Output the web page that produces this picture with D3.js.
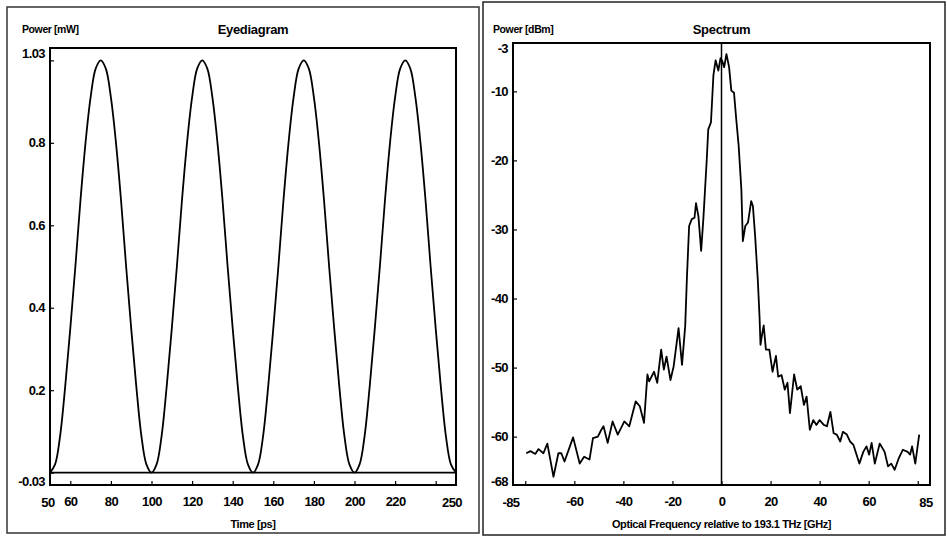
<!DOCTYPE html>
<html>
<head>
<meta charset="utf-8">
<script src="https://cdn.jsdelivr.net/npm/d3@7"></script>
<style>
  body { margin: 0; background: #fff; }
  svg { display: block; font-family: "Liberation Sans Narrow", "Arial Narrow", "Liberation Sans", Arial, sans-serif; }
</style>
</head>
<body>
<svg id="chart" width="947" height="536"></svg>
<script>
// ---- Eyediagram data (time in ps, power in mW) ----
const eyeTime = [
  50, 52.5, 55, 57.5, 60, 62.5, 65, 67.5, 70, 72.5, 75, 77.5, 80, 82.5, 85, 87.5, 90, 92.5, 95, 97.5,
  100, 102.5, 105, 107.5, 110, 112.5, 115, 117.5, 120, 122.5, 125, 127.5, 130, 132.5, 135, 137.5, 140, 142.5, 145, 147.5,
  150, 152.5, 155, 157.5, 160, 162.5, 165, 167.5, 170, 172.5, 175, 177.5, 180, 182.5, 185, 187.5, 190, 192.5, 195, 197.5,
  200, 202.5, 205, 207.5, 210, 212.5, 215, 217.5, 220, 222.5, 225, 227.5, 230, 232.5, 235, 237.5, 240, 242.5, 245, 247.5,
  250
];
const eyePower = [
  0.00, 0.02, 0.09, 0.21, 0.35, 0.50, 0.66, 0.80, 0.91, 0.98, 1.00, 0.98, 0.91, 0.80, 0.66, 0.50, 0.35, 0.21, 0.09, 0.02,
  0.00, 0.02, 0.09, 0.21, 0.35, 0.50, 0.66, 0.80, 0.91, 0.98, 1.00, 0.98, 0.91, 0.80, 0.66, 0.50, 0.35, 0.21, 0.09, 0.02,
  0.00, 0.02, 0.09, 0.21, 0.35, 0.50, 0.66, 0.80, 0.91, 0.98, 1.00, 0.98, 0.91, 0.80, 0.66, 0.50, 0.35, 0.21, 0.09, 0.02,
  0.00, 0.02, 0.09, 0.21, 0.35, 0.50, 0.66, 0.80, 0.91, 0.98, 1.00, 0.98, 0.91, 0.80, 0.66, 0.50, 0.35, 0.21, 0.09, 0.02,
  0.00
];
// zero level trace
const eyeZeroTime = [50, 250];
const eyeZeroPower = [0, 0];

const eyeXDomain = [50, 250];
const eyeYDomain = [-0.03, 1.03];
const eyeXTicks = [60, 80, 100, 120, 140, 160, 180, 200, 220, 240];
const eyeXTickLabels = ["60", "80", "100", "120", "140", "160", "180", "200", "220", ""];
const eyeYTicks = [0, 0.2, 0.4, 0.6, 0.8, 1.0];
const eyeYTickLabels = ["", "0.2", "0.4", "0.6", "0.8", ""];
const eyeXEdgeLabels = ["50", "250"];
const eyeYEdgeLabels = ["-0.03", "1.03"];

// ---- Spectrum data (GHz relative to 193.1 THz, power in dBm) ----
const specFreq = [
  -79.6, -77.9, -75.9, -74.6, -72.6, -71.0, -68.5, -66.5, -65.3, -64.0,
  -60.5, -57.8, -56.0, -53.8, -52.4, -50.4, -49.0, -48.1, -46.4, -44.4,
  -42.3, -39.6, -37.6, -35.0, -33.3, -31.6, -30.2, -29.5, -27.5, -26.2,
  -24.6, -23.5, -22.4, -20.8, -19.5, -17.5, -16.1, -14.8, -14.1, -13.2,
  -12.1, -11.0, -10.4, -9.4, -8.3, -7.4, -6.0, -5.4, -4.3, -3.3,
  -2.4, -1.3, -0.4, 0.3, 1.1, 2.0, 3.1, 4.0, 5.1, 6.0,
  7.0, 8.1, 8.7, 9.7, 10.8, 12.1, 12.8, 13.7, 14.8, 15.5,
  15.9, 16.4, 17.2, 18.1, 19.5, 20.8, 22.2, 23.1, 24.5, 25.8,
  26.9, 27.9, 29.6, 30.9, 32.3, 33.6, 34.7, 36.0, 37.4, 38.7,
  40.0, 41.7, 43.0, 44.4, 45.7, 47.0, 48.4, 49.5, 51.1, 52.4,
  53.8, 56.2, 57.8, 59.1, 60.2, 61.2, 62.5, 64.5, 66.5, 67.9,
  69.2, 70.6, 72.3, 73.9, 75.9, 76.9, 77.7, 79.0, 80.6
];
const specPower = [
  -62.4, -62.1, -62.5, -61.8, -62.4, -61.0, -65.8, -62.4, -62.4, -63.6,
  -60.1, -63.9, -62.9, -63.3, -60.2, -60.0, -59.0, -58.5, -60.9, -57.8,
  -59.7, -57.8, -58.5, -54.9, -55.6, -58.0, -51.0, -52.0, -50.6, -52.2,
  -47.4, -50.3, -48.4, -51.8, -49.8, -44.3, -49.6, -44.0, -37.0, -29.5,
  -28.5, -28.3, -26.2, -28.1, -33.1, -28.5, -19.8, -15.5, -14.5, -7.7,
  -5.5, -7.0, -5.2, -5.6, -6.5, -4.6, -6.5, -9.9, -10.2, -14.0,
  -17.9, -24.2, -31.7, -29.5, -29.0, -25.9, -26.6, -30.9, -37.3, -42.6,
  -46.7, -45.5, -43.9, -47.4, -47.4, -50.6, -48.3, -51.3, -51.1, -53.2,
  -52.2, -56.6, -51.0, -53.2, -52.7, -55.4, -54.2, -59.0, -57.6, -58.3,
  -57.6, -58.3, -58.5, -56.4, -59.5, -59.7, -60.7, -59.3, -59.7, -60.7,
  -61.2, -63.9, -62.2, -61.4, -62.6, -60.9, -63.9, -61.0, -62.2, -64.3,
  -63.9, -64.8, -63.1, -61.9, -62.2, -62.6, -61.4, -63.9, -59.7
];

const specXDomain = [-85, 85];
const specYDomain = [-67, -3];
const specXTicks = [-80, -60, -40, -20, 0, 20, 40, 60, 80];
const specXTickLabels = ["", "-60", "-40", "-20", "0", "20", "40", "60", ""];
const specYTicks = [-10, -20, -30, -40, -50, -60];
const specYTickLabels = ["-10", "-20", "-30", "-40", "-50", "-60"];
const specXEdgeLabels = ["-85", "85"];
const specYEdgeLabels = ["-68", "-3"];

const svg = d3.select("#chart");

// panel outlines
svg.append("rect")
    .attr("x", 7).attr("y", 7).attr("width", 472).attr("height", 526)
    .attr("fill", "none").attr("stroke", "#333").attr("stroke-width", 1.5);
svg.append("rect")
    .attr("x", 483).attr("y", 2).attr("width", 462).attr("height", 533)
    .attr("fill", "none").attr("stroke", "#222").attr("stroke-width", 1.5);

function drawPanel(opts) {
    const { left, right, top, bottom } = opts.frame;

    const x = d3.scaleLinear().domain(opts.xDomain).range([left, right]);
    const y = d3.scaleLinear().domain(opts.yDomain).range([bottom, top]);

    const g = svg.append("g");

    // X axis (ticks point into the plot)
    const xAxis = g.append("g")
        .attr("transform", `translate(0,${bottom})`)
        .call(d3.axisBottom(x)
            .tickValues(opts.xTicks)
            .tickFormat((d, i) => opts.xTickLabels[i])
            .tickSizeInner(-4)
            .tickSizeOuter(0)
            .tickPadding(12));
    xAxis.select(".domain").remove();

    // Y axis
    const yAxis = g.append("g")
        .attr("transform", `translate(${left},0)`)
        .call(d3.axisLeft(y)
            .tickValues(opts.yTicks)
            .tickFormat((d, i) => opts.yTickLabels[i])
            .tickSizeInner(-4)
            .tickSizeOuter(0)
            .tickPadding(5));
    yAxis.select(".domain").remove();

    g.selectAll(".tick line").attr("stroke", "#000").attr("stroke-width", 1.2);
    g.selectAll(".tick text")
        .attr("fill", "#000")
        .attr("font-size", 13)
        .attr("font-weight", "bold")
        .attr("letter-spacing", -0.6)
        .attr("font-family", null);

    // edge labels at the ends of each axis
    const [xMin, xMax] = opts.xDomain;
    const edge = (tx, ty, anchor, label) => g.append("text")
        .attr("x", tx).attr("y", ty)
        .attr("text-anchor", anchor)
        .attr("font-size", 13).attr("font-weight", "bold")
        .attr("letter-spacing", -0.6)
        .text(label);
    edge(x(xMin) - 2, bottom + 22, "middle", opts.xEdgeLabels[0]);
    edge(x(xMax) - 4, bottom + 22, "middle", opts.xEdgeLabels[1]);
    const [yMin, yMax] = opts.yDomain;
    edge(left - 5, y(yMin) + 1, "end", opts.yEdgeLabels[0]);
    edge(left - 5, y(yMax) + 10, "end", opts.yEdgeLabels[1]);

    // traces
    const line = d3.line()
        .x(d => x(d[0]))
        .y(d => y(d[1]))
        .curve(opts.curve);

    opts.series.forEach(s => {
        g.append("path")
            .datum(s.xs.map((v, i) => [v, s.ys[i]]))
            .attr("fill", "none")
            .attr("stroke", "#000")
            .attr("stroke-width", 1.8)
            .attr("stroke-linejoin", "round")
            .attr("d", line);
    });

    if (opts.centerLine) {
        g.append("line")
            .attr("x1", x(0)).attr("x2", x(0))
            .attr("y1", top).attr("y2", bottom)
            .attr("stroke", "#000").attr("stroke-width", 1.5);
    }

    // plot frame
    g.append("rect")
        .attr("x", left).attr("y", top)
        .attr("width", right - left).attr("height", bottom - top)
        .attr("fill", "none").attr("stroke", "#000").attr("stroke-width", 2);

    // titles and axis labels
    g.append("text")
        .attr("x", opts.yLabelX).attr("y", 33)
        .attr("font-size", 10.5).attr("font-weight", "bold")
        .attr("letter-spacing", -0.4)
        .text(opts.yLabel);
    g.append("text")
        .attr("x", (left + right) / 2).attr("y", 34)
        .attr("text-anchor", "middle")
        .attr("font-size", 13).attr("font-weight", "bold")
        .attr("letter-spacing", -0.3)
        .text(opts.title);
    g.append("text")
        .attr("x", (left + right) / 2).attr("y", bottom + 43)
        .attr("text-anchor", "middle")
        .attr("font-size", 11).attr("font-weight", "bold")
        .attr("letter-spacing", -0.4)
        .text(opts.xLabel);
}

drawPanel({
    frame: { left: 50, right: 456, top: 48, bottom: 485 },
    xDomain: eyeXDomain, yDomain: eyeYDomain,
    xTicks: eyeXTicks, xTickLabels: eyeXTickLabels,
    yTicks: eyeYTicks, yTickLabels: eyeYTickLabels,
    xEdgeLabels: eyeXEdgeLabels, yEdgeLabels: eyeYEdgeLabels,
    series: [
        { xs: eyeTime, ys: eyePower },
        { xs: eyeZeroTime, ys: eyeZeroPower }
    ],
    curve: d3.curveCatmullRom,
    title: "Eyediagram",
    yLabel: "Power [mW]", yLabelX: 22,
    xLabel: "Time [ps]"
});

drawPanel({
    frame: { left: 513, right: 930, top: 43, bottom: 485 },
    xDomain: specXDomain, yDomain: specYDomain,
    xTicks: specXTicks, xTickLabels: specXTickLabels,
    yTicks: specYTicks, yTickLabels: specYTickLabels,
    xEdgeLabels: specXEdgeLabels, yEdgeLabels: specYEdgeLabels,
    series: [
        { xs: specFreq, ys: specPower }
    ],
    curve: d3.curveLinear,
    centerLine: true,
    title: "Spectrum",
    yLabel: "Power [dBm]", yLabelX: 493,
    xLabel: "Optical Frequency relative to 193.1 THz [GHz]"
});
</script>
</body>
</html>
